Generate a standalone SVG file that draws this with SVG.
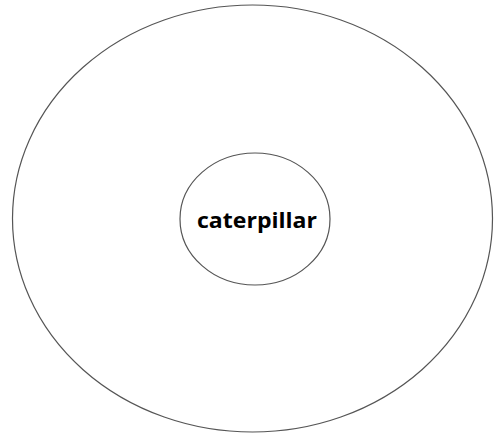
<svg xmlns="http://www.w3.org/2000/svg" width="495" height="436" viewBox="0 0 495 436">
<style>
.ring{fill:none;stroke:#555;stroke-width:1.2}
.lbl{font-family:"Open Sans","Liberation Sans",sans-serif;font-weight:bold;font-size:21px;fill:#000;text-anchor:middle}
</style>
<rect width="495" height="436" fill="#fff"/>
<g id="outer"><ellipse class="ring" cx="252.5" cy="218.5" rx="240" ry="213.5"/></g>
<g id="inner"><ellipse class="ring" cx="255" cy="219" rx="75" ry="66"/>
<text class="lbl" x="257" y="228" textLength="120" lengthAdjust="spacingAndGlyphs">caterpillar</text></g>
</svg>
